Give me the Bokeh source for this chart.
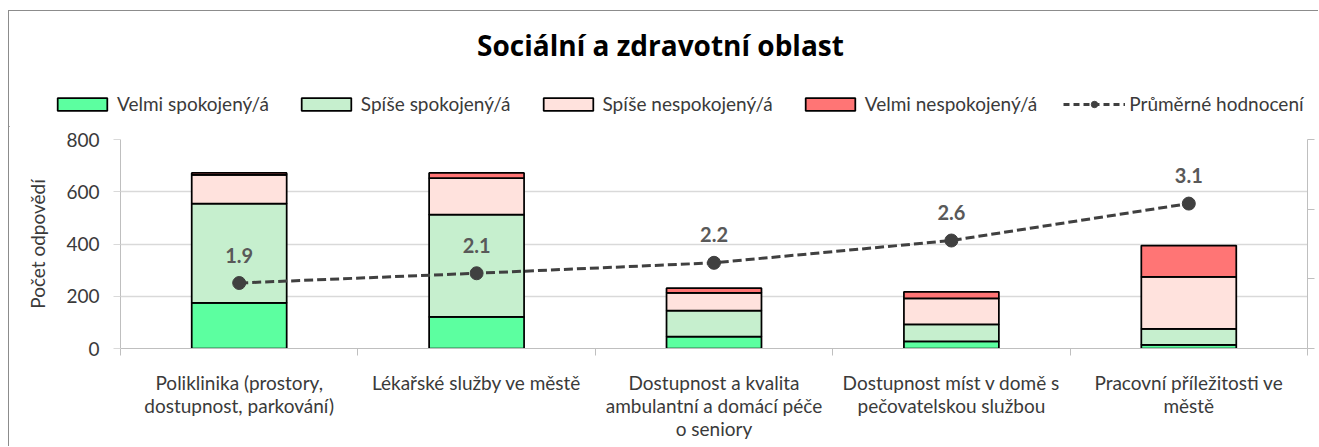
from bokeh.plotting import figure
from bokeh.layouts import column
from bokeh.models import (ColumnDataSource, Range1d, LinearAxis, FixedTicker,
                          Legend, LegendItem, Label)
from bokeh.embed import file_html
from bokeh.resources import INLINE
from bokeh.core.properties import value

# ---- data ----
categories = [
    "Poliklinika (prostory,\ndostupnost, parkování)",
    "Lékařské služby ve městě",
    "Dostupnost a kvalita\nambulantní a domácí péče\no seniory",
    "Dostupnost míst v domě s\npečovatelskou službou",
    "Pracovní příležitosti ve\nměstě",
]
velmi_spokojeny = [175, 121, 45, 27, 14]
spise_spokojeny = [380, 391, 100, 65, 61]
spise_nespokojeny = [110, 140, 68, 100, 199]
velmi_nespokojeny = [7, 20, 18, 25, 120]
prumerne_hodnoceni = [1.94, 2.08, 2.23, 2.55, 3.08]
prumer_labels = ["1.9", "2.1", "2.2", "2.6", "3.1"]
series_names = ["Velmi spokojený/á", "Spíše spokojený/á",
                "Spíše nespokojený/á", "Velmi nespokojený/á"]
avg_name = "Průměrné hodnocení"
y_ticks = [0, 200, 400, 600, 800]
title_text = "Sociální a zdravotní oblast"

colors = ["#5cffa0", "#c6efce", "#ffe2dd", "#ff7575"]
FONT = "Lato"
FS = "19px"
TXT = "#3a3a3a"
AVG_COLOR = "#404040"
W = 1310
TOP_H = 117
MAIN_H = 319
BORDER = "1px solid #8c8c8c"

xs = list(range(len(categories)))
src = ColumnDataSource(dict(
    x=xs,
    s1=velmi_spokojeny, s2=spise_spokojeny,
    s3=spise_nespokojeny, s4=velmi_nespokojeny,
    avg=prumerne_hodnoceni, lab=prumer_labels,
))

# ---------------- header figure: title + legend ----------------
top = figure(width=W, height=TOP_H, output_backend="svg", toolbar_location=None,
             x_range=Range1d(0, W), y_range=Range1d(0, TOP_H),
             min_border=0, title=None)
top.frame_align = False
top.axis.visible = False
top.grid.visible = False
top.outline_line_color = None
top.margin = (10, 0, 0, 8)
top.styles = {"border-left": BORDER, "border-top": BORDER}

top.add_layout(Label(x=651, y=TOP_H - 33, text=title_text,
                     text_align="center", text_baseline="middle",
                     text_font="Open Sans", text_font_size="28px",
                     text_font_style="bold", text_color="#000000"))

# off-screen proxies, used only to draw the legend swatches
leg_renderers = []
for c in colors:
    leg_renderers.append(top.vbar(x=[-1000], top=[1], width=1, fill_color=c,
                                  line_color="black", line_width=1.75))
lg_line = top.line(x=[-1000, -999], y=[1, 1], line_color=AVG_COLOR, line_width=3,
                   line_dash="6 4")
lg_pts = top.scatter(x=[-1000], y=[1], size=11, fill_color=AVG_COLOR,
                     line_color=AVG_COLOR)

items = [LegendItem(label=n, renderers=[r]) for n, r in zip(series_names, leg_renderers)]
items.append(LegendItem(label=avg_name, renderers=[lg_line, lg_pts]))
leg = Legend(items=items, orientation="horizontal", location=(42, 13),
             glyph_width=62, glyph_height=16, label_standoff=4, spacing=26,
             padding=0, margin=0, border_line_color=None,
             background_fill_alpha=0, label_text_font=FONT,
             label_text_font_size=FS, label_text_color=TXT)
top.add_layout(leg, "center")

# ---------------- main chart ----------------
p = figure(width=W, height=MAIN_H, output_backend="svg", toolbar_location=None,
           x_range=Range1d(-0.5, len(categories) - 0.5), y_range=Range1d(0, 800),
           min_border_left=111, min_border_right=12, min_border_top=12,
           min_border_bottom=98, title=None)
p.frame_align = False
p.margin = (0, 0, 0, 8)
p.styles = {"border-left": BORDER}
p.outline_line_color = None
p.extra_y_ranges = {"avg": Range1d(1, 4)}

bars = p.vbar_stack(["s1", "s2", "s3", "s4"], x="x", width=0.4, source=src,
                    fill_color=colors, line_color="black", line_width=1.75)

p.line("x", "avg", source=src, y_range_name="avg", line_color=AVG_COLOR,
       line_width=3, line_dash="9 4")
p.scatter("x", "avg", source=src, y_range_name="avg", size=13,
          fill_color=AVG_COLOR, line_color=AVG_COLOR)
p.text("x", "avg", text="lab", source=src, y_range_name="avg", y_offset=-28,
       text_align="center", text_baseline="alphabetic", text_font=value(FONT),
       text_font_style="bold", text_font_size="20px", text_color="#595959")

xa = p.xaxis[0]
xa.ticker = FixedTicker(ticks=xs, minor_ticks=[i - 0.5 for i in range(len(categories) + 1)])
xa.major_label_overrides = {i: c for i, c in enumerate(categories)}
xa.major_tick_in = 0
xa.major_tick_out = 0
xa.minor_tick_in = 0
xa.minor_tick_out = 7
xa.minor_tick_line_color = "#bfbfbf"
xa.axis_line_color = "#bfbfbf"
xa.major_label_standoff = 15
xa.major_label_text_font = FONT
xa.major_label_text_font_size = FS
xa.major_label_text_color = TXT
xa.major_label_text_line_height = 1.0

ya = p.yaxis[0]
ya.ticker = FixedTicker(ticks=y_ticks)
ya.minor_tick_line_color = None
ya.major_tick_in = 0
ya.major_tick_out = 7
ya.major_tick_line_color = "#d9d9d9"
ya.axis_line_color = "#bfbfbf"
ya.major_label_standoff = 14
ya.major_label_text_font = FONT
ya.major_label_text_font_size = FS
ya.major_label_text_color = TXT
ya.axis_label = "Počet odpovědí"
ya.axis_label_text_font = FONT
ya.axis_label_text_font_size = FS
ya.axis_label_text_font_style = "normal"
ya.axis_label_text_color = TXT
ya.axis_label_standoff = 14

ra = LinearAxis(y_range_name="avg", ticker=FixedTicker(ticks=[1, 2, 3, 4]))
ra.major_label_overrides = {1: "", 2: "", 3: "", 4: ""}
ra.minor_tick_line_color = None
ra.major_tick_in = 0
ra.major_tick_out = 7
ra.major_tick_line_color = "#bfbfbf"
ra.axis_line_color = "#bfbfbf"
ra.major_label_standoff = 0
p.add_layout(ra, "right")

p.xgrid.grid_line_color = None
p.ygrid.grid_line_color = "#d9d9d9"
p.ygrid.grid_line_width = 1.5

layout = column(top, p, spacing=0)
open("out.html", "w").write(file_html(layout, INLINE))
